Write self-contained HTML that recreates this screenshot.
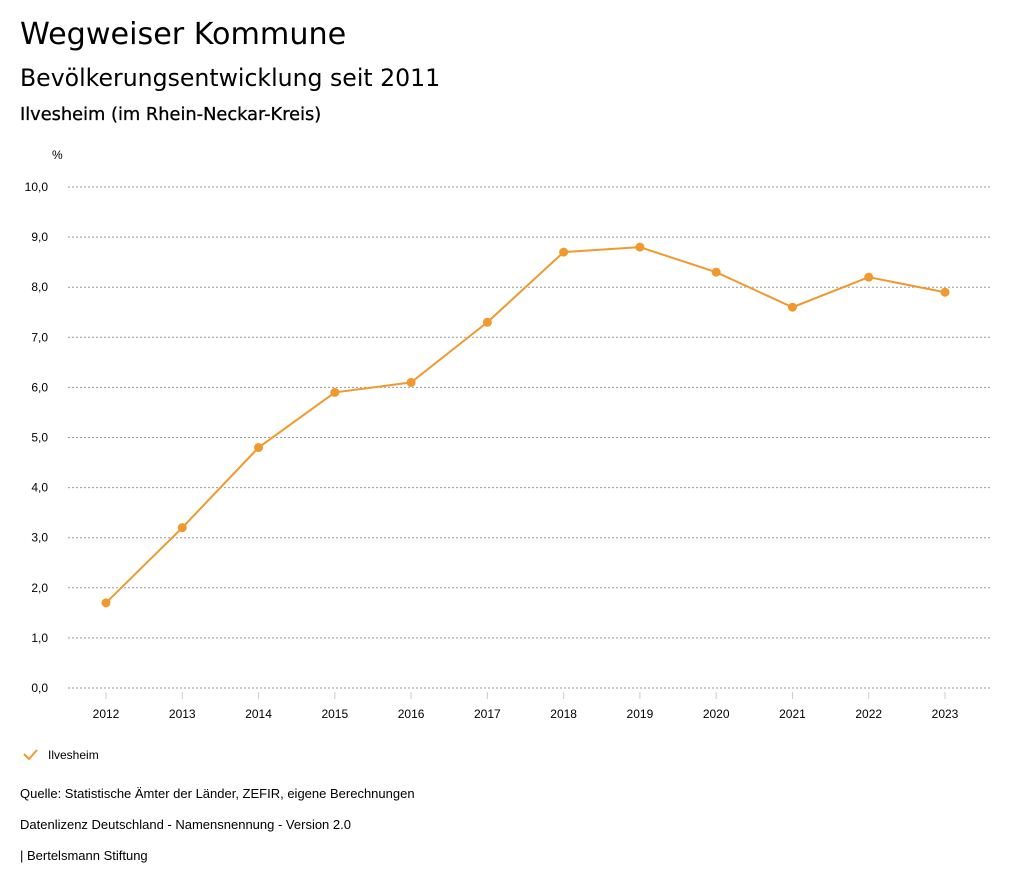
<!DOCTYPE html>
<html><head><meta charset="utf-8"><style>
body{margin:0;width:1024px;height:888px;background:#fff;font-family:"Liberation Sans","DejaVu Sans",sans-serif;color:#000;position:relative;overflow:hidden}
.t{position:absolute;white-space:nowrap}
.d{font-family:"DejaVu Sans","Liberation Sans",sans-serif}
</style></head><body>
<div class="t d" style="left:20px;top:17px;font-size:30.2px">Wegweiser Kommune</div>
<div class="t d" style="left:20px;top:64px;font-size:23.6px">Bevölkerungsentwicklung seit 2011</div>
<div class="t d" style="left:20px;top:104px;font-size:17.8px;-webkit-text-stroke:0.3px #000">Ilvesheim (im Rhein-Neckar-Kreis)</div>
<svg id="chart" width="1024" height="888" style="position:absolute;left:0;top:0" font-family="Liberation Sans, DejaVu Sans, sans-serif"></svg>
<div class="t" style="left:20px;top:786px;font-size:13px">Quelle: Statistische Ämter der Länder, ZEFIR, eigene Berechnungen</div>
<div class="t" style="left:20px;top:817px;font-size:13px">Datenlizenz Deutschland - Namensnennung - Version 2.0</div>
<div class="t" style="left:20px;top:848px;font-size:13px">| Bertelsmann Stiftung</div>
<script>
const years=["2012","2013","2014","2015","2016","2017","2018","2019","2020","2021","2022","2023"];
const values=[1.7,3.2,4.8,5.9,6.1,7.3,8.7,8.8,8.3,7.6,8.2,7.9];
const yTicks=[0,1,2,3,4,5,6,7,8,9,10];
const seriesName="Ilvesheim";
const NS="http://www.w3.org/2000/svg";
const svg=document.getElementById('chart');
const x=i=>106+i*(945-106)/(years.length-1);
const y=v=>688-v*50.1;
function mk(t,a,p){const e=document.createElementNS(NS,t);for(const k in a)e.setAttribute(k,a[k]);(p||svg).appendChild(e);return e;}
const yl=mk('text',{x:52,y:159,'font-size':12});yl.textContent='%';


yTicks.forEach(v=>{
  const g=mk('line',{x1:68,x2:990,y1:y(v),y2:y(v),stroke:'#999','stroke-dasharray':'2,2','stroke-width':1});
  
  
  const t=mk('text',{x:48,y:y(v)+4,'font-size':12,'text-anchor':'end'});
  t.textContent=v.toFixed(1).replace('.',',');
  
  
});
years.forEach((yr,i)=>{
  const tk=mk('line',{x1:x(i),x2:x(i),y1:692,y2:699,stroke:'#ccc'});
  
  
  const t=mk('text',{x:x(i),y:718,'font-size':12,'text-anchor':'middle'});
  t.textContent=yr;
  
  
});
const line=mk('polyline',{points:values.map((v,i)=>x(i)+','+y(v)).join(' '),fill:'none',stroke:'#f0992f','stroke-width':2});


values.forEach((v,i)=>{
  const c=mk('circle',{cx:x(i),cy:y(v),r:4.5,fill:'#f0992f'});
  
  
});
const lg=mk('path',{d:'M24 754 L29 759 L37 750',fill:'none',stroke:'#f0992f','stroke-width':2});


const lt=mk('text',{x:48,y:759,'font-size':12});lt.textContent=seriesName;


</script>
</body></html>
